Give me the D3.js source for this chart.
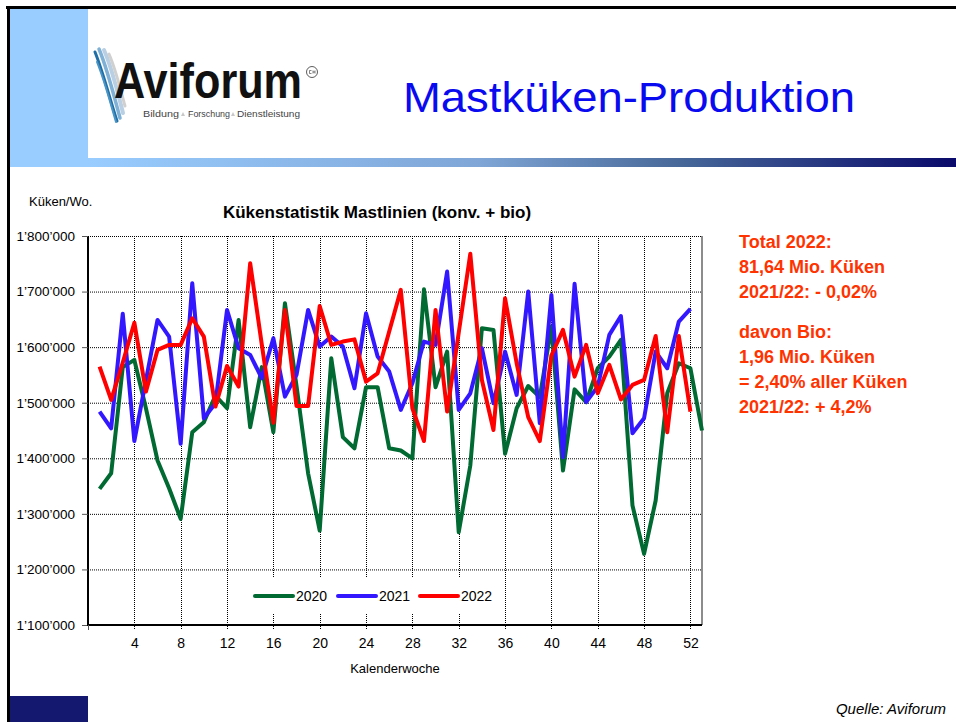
<!DOCTYPE html>
<html>
<head>
<meta charset="utf-8">
<script src="https://cdn.jsdelivr.net/npm/d3@7"></script>
<style>
  body { margin: 0; background: #fff; }
  svg { display: block; font-family: "Liberation Sans", Arial, sans-serif; }
</style>
</head>
<body>
<script>
// weekly chick numbers (Mastküken)
const years = ["2020", "2021", "2022"];
const colors = ["#006a32", "#3318ff", "#ff0000"];

const values2020 = [1345000, 1373000, 1564000, 1577000, 1490000, 1396000, 1346000, 1291000, 1447000, 1465000,
  1513000, 1490000, 1649000, 1456000, 1564000, 1447000, 1679000, 1530000, 1373000, 1270000,
  1580000, 1438000, 1418000, 1528000, 1528000, 1418000, 1414000, 1400000, 1704000, 1528000,
  1592000, 1267000, 1387000, 1634000, 1631000, 1408000, 1490000, 1530000, 1510000, 1637000,
  1378000, 1524000, 1501000, 1562000, 1583000, 1613000, 1315000, 1228000, 1324000, 1517000,
  1571000, 1562000, 1450000];
const values2021 = [1484000, 1454000, 1660000, 1431000, 1540000, 1649000, 1619000, 1426000, 1715000, 1472000,
  1499000, 1667000, 1598000, 1586000, 1544000, 1616000, 1511000, 1550000, 1667000, 1601000,
  1619000, 1601000, 1526000, 1661000, 1583000, 1556000, 1487000, 1535000, 1610000, 1604000,
  1736000, 1487000, 1517000, 1598000, 1499000, 1592000, 1514000, 1700000, 1463000, 1694000,
  1402000, 1714000, 1501000, 1529000, 1622000, 1656000, 1445000, 1472000, 1592000, 1562000,
  1646000, 1669000];
const values2022 = [1565000, 1505000, 1572000, 1644000, 1520000, 1595000, 1604000, 1604000, 1652000, 1619000,
  1493000, 1566000, 1529000, 1751000, 1605000, 1464000, 1667000, 1494000, 1494000, 1674000,
  1604000, 1610000, 1614000, 1538000, 1553000, 1628000, 1703000, 1490000, 1431000, 1667000,
  1484000, 1626000, 1768000, 1541000, 1451000, 1688000, 1571000, 1474000, 1431000, 1585000,
  1631000, 1547000, 1604000, 1517000, 1568000, 1506000, 1532000, 1541000, 1620000, 1447000,
  1620000, 1484000];

const xTicks = [4, 8, 12, 16, 20, 24, 28, 32, 36, 40, 44, 48, 52];
const yTicks = [1100000, 1200000, 1300000, 1400000, 1500000, 1600000, 1700000, 1800000];

const sideLines = ["Total 2022:", "81,64 Mio. Küken", "2021/22: - 0,02%",
  "davon Bio:", "1,96 Mio. Küken", "= 2,40% aller Küken", "2021/22: + 4,2%"];

const width = 956, height = 722;

const svg = d3.select("body")
  .append("svg")
  .attr("width", width)
  .attr("height", height);

// ---- slide frame ----
const defs = svg.append("defs");
const grad = defs.append("linearGradient").attr("id", "bar");
grad.append("stop").attr("offset", "0%").attr("stop-color", "#99ccff");
grad.append("stop").attr("offset", "45%").attr("stop-color", "#7fa6d6");
grad.append("stop").attr("offset", "68%").attr("stop-color", "#476899");
grad.append("stop").attr("offset", "100%").attr("stop-color", "#0a0a6a");

svg.append("rect").attr("x", 10).attr("y", 9).attr("width", 78).attr("height", 158).attr("fill", "#99ccff");
svg.append("rect").attr("x", 88).attr("y", 158).attr("width", 868).attr("height", 9).attr("fill", "url(#bar)");
svg.append("rect").attr("x", 10).attr("y", 696).attr("width", 78).attr("height", 26).attr("fill", "#14186e");
svg.append("line").attr("x1", 6).attr("x2", 956).attr("y1", 7.5).attr("y2", 7.5)
  .attr("stroke", "#000").attr("stroke-width", 3);
svg.append("line").attr("x1", 8.5).attr("x2", 8.5).attr("y1", 6).attr("y2", 722)
  .attr("stroke", "#000").attr("stroke-width", 3);

// ---- logo ----
const logo = svg.append("g");
const feathers = [
  ["M95,52 C103,72 109,96 117,121", "#1f6fa6", 3],
  ["M99,49 C107,68 113,92 120,118", "#7fb0d6", 3.5],
  ["M104,50 C112,68 117,90 123,113", "#b9cfe3", 4],
  ["M109,54 C116,70 120,88 125,106", "#d0d0d0", 3],
  ["M97,62 C105,82 110,102 116,122", "#4b95c6", 2]
];
feathers.forEach(f => {
  logo.append("path").attr("d", f[0]).attr("fill", "none")
    .attr("stroke", f[1]).attr("stroke-width", f[2]).attr("stroke-linecap", "round");
});
logo.append("text")
  .attr("x", 114).attr("y", 97.5)
  .attr("font-size", 50).attr("font-weight", "bold")
  .attr("textLength", 188).attr("lengthAdjust", "spacingAndGlyphs")
  .attr("fill", "#111")
  .text("Aviforum");
logo.append("circle").attr("cx", 312).attr("cy", 72).attr("r", 5.5)
  .attr("fill", "none").attr("stroke", "#333").attr("stroke-width", 0.8);
logo.append("path").attr("d", "M309.5,70.5 h2 M309.5,70.5 v3 h2 M313,70.5 v3 M315,70.5 v3 M313,72 h2")
  .attr("fill", "none").attr("stroke", "#333").attr("stroke-width", 0.6);

// subtitle words with small triangles between them
const subWords = [["Bildung", 143, 36], ["Forschung", 188, 42], ["Dienstleistung", 237, 63]];
subWords.forEach(w => {
  logo.append("text")
    .attr("x", w[1]).attr("y", 117)
    .attr("font-size", 9.5).attr("fill", "#444")
    .attr("textLength", w[2]).attr("lengthAdjust", "spacingAndGlyphs")
    .text(w[0]);
});
[183, 233].forEach(tx => {
  logo.append("path").attr("d", `M${tx - 2},116 L${tx + 2},116 L${tx},112 Z`).attr("fill", "#c8c8c8");
});

svg.append("text")
  .attr("x", 403).attr("y", 112)
  .attr("font-family", "'Liberation Sans Narrow', 'Arial Narrow', 'Liberation Sans', sans-serif")
  .attr("font-size", 42)
  .attr("textLength", 452).attr("lengthAdjust", "spacingAndGlyphs")
  .attr("fill", "#0a0af0")
  .text("Mastküken-Produktion");

// ---- chart ----
const x = d3.scaleLinear().domain([0, 53]).range([88, 702]);
const y = d3.scaleLinear().domain([1100000, 1800000]).range([625, 236]);

const fmt = v => d3.format(",")(v).replace(/,/g, "\u2019");

// gridlines
svg.append("g")
  .selectAll("line.h")
  .data(yTicks.slice(1))
  .join("line")
  .attr("x1", 88).attr("x2", 702)
  .attr("y1", d => y(d) + 0.5).attr("y2", d => y(d) + 0.5)
  .attr("stroke", "#000").attr("stroke-width", 1).attr("stroke-dasharray", "1,1");
svg.append("g")
  .selectAll("line.v")
  .data(xTicks)
  .join("line")
  .attr("x1", d => Math.round(x(d)) + 0.5).attr("x2", d => Math.round(x(d)) + 0.5)
  .attr("y1", 236).attr("y2", 630)
  .attr("stroke", "#000").attr("stroke-width", 1).attr("stroke-dasharray", "1,1");

// frame right
svg.append("line").attr("x1", 702).attr("x2", 702).attr("y1", 236).attr("y2", 625)
  .attr("stroke", "#666").attr("stroke-width", 1.5);

// axes
const yAxis = svg.append("g")
  .attr("transform", "translate(88,0)")
  .call(d3.axisLeft(y).tickValues(yTicks).tickFormat(fmt).tickSize(6).tickPadding(7));
yAxis.select(".domain").attr("stroke-width", 2).attr("d", "M0,236V625");
yAxis.selectAll("text").attr("font-size", 13.5).attr("fill", "#000")
  .attr("font-family", "'Liberation Sans', Arial, sans-serif");
yAxis.selectAll(".tick line").attr("stroke", "#555");

const xAxis = svg.append("g")
  .attr("transform", "translate(0,625)")
  .call(d3.axisBottom(x).tickValues(xTicks).tickSize(0).tickPadding(13));
xAxis.select(".domain").attr("stroke-width", 2).attr("d", "M87,0H702");
xAxis.selectAll("text").attr("font-size", 14).attr("fill", "#000")
  .attr("font-family", "'Liberation Sans', Arial, sans-serif");
svg.append("line").attr("x1", 88.5).attr("x2", 88.5).attr("y1", 625).attr("y2", 630)
  .attr("stroke", "#555");

// series
const series = [values2020, values2021, values2022];
const line = d3.line()
  .x((d, i) => x(i + 1))
  .y(d => y(d));

svg.append("g")
  .selectAll("path")
  .data(series)
  .join("path")
  .attr("d", d => line(d))
  .attr("fill", "none")
  .attr("stroke", (d, i) => colors[i])
  .attr("stroke-width", 4)
  .attr("stroke-linejoin", "round");

// legend
const legend = svg.append("g");
legend.append("rect").attr("x", 242).attr("y", 578).attr("width", 248).attr("height", 36).attr("fill", "#fff");
const legX = [255, 338, 420];
years.forEach((yr, i) => {
  legend.append("line")
    .attr("x1", legX[i]).attr("x2", legX[i] + 38)
    .attr("y1", 596).attr("y2", 596)
    .attr("stroke", colors[i]).attr("stroke-width", 4).attr("stroke-linecap", "round");
  legend.append("text")
    .attr("x", legX[i] + 41).attr("y", 601)
    .attr("font-size", 14).attr("fill", "#000")
    .text(yr);
});

// labels
svg.append("text").attr("x", 29).attr("y", 206).attr("font-size", 13).text("Küken/Wo.");
svg.append("text").attr("x", 377).attr("y", 218)
  .attr("text-anchor", "middle").attr("font-size", 17).attr("font-weight", "bold")
  .text("Kükenstatistik Mastlinien (konv. + bio)");
svg.append("text").attr("x", 395).attr("y", 673)
  .attr("text-anchor", "middle").attr("font-size", 13)
  .text("Kalenderwoche");
svg.append("text").attr("x", 946).attr("y", 714)
  .attr("text-anchor", "end").attr("font-size", 15).attr("font-style", "italic")
  .text("Quelle: Aviforum");

// side notes
const sideY = [248, 273, 298, 338, 363, 388, 413];
svg.append("g")
  .selectAll("text")
  .data(sideLines)
  .join("text")
  .attr("x", 739)
  .attr("y", (d, i) => sideY[i])
  .attr("font-size", 18).attr("font-weight", "bold")
  .attr("fill", "#ff3300")
  .text(d => d);
</script>
</body>
</html>
